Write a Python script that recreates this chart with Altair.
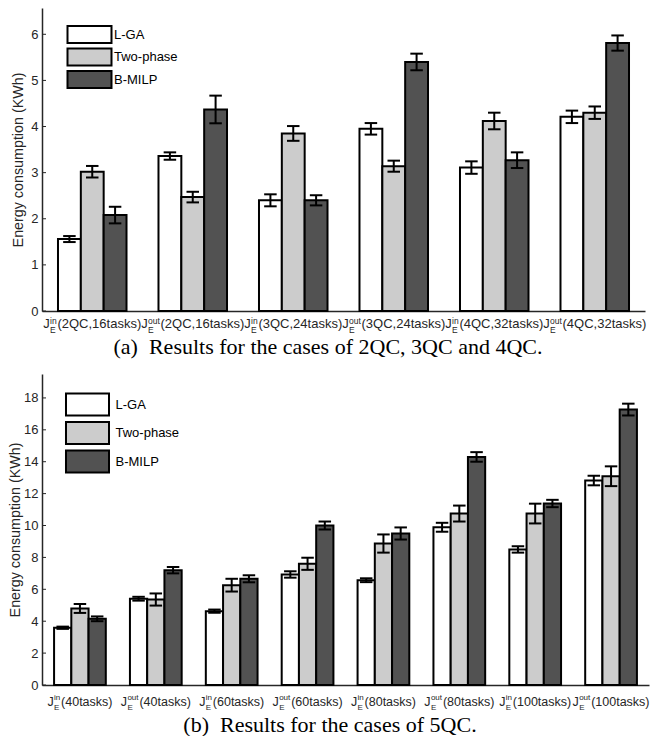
import altair as alt
import pandas as pd

methods = ["L-GA", "Two-phase", "B-MILP"]
colors = ["#ffffff", "#cccccc", "#525252"]

# ---- panel (a) ----
a_sup = ["in", "out", "in", "out", "in", "out"]
a_rest = ["(2QC,16tasks)", "(2QC,16tasks)", "(3QC,24tasks)", "(3QC,24tasks)",
          "(4QC,32tasks)", "(4QC,32tasks)"]
a_lga = [1.56, 3.36, 2.40, 3.95, 3.11, 4.21]
a_lga_err = [0.065, 0.08, 0.13, 0.125, 0.135, 0.135]
a_two = [3.02, 2.47, 3.85, 3.14, 4.12, 4.30]
a_two_err = [0.125, 0.115, 0.16, 0.12, 0.18, 0.135]
a_bm = [2.08, 4.37, 2.40, 5.40, 3.27, 5.81]
a_bm_err = [0.18, 0.30, 0.11, 0.18, 0.17, 0.165]
a_ticks = [0, 1, 2, 3, 4, 5, 6]
a_caption = "(a)\u00a0\u00a0Results for the cases of 2QC, 3QC and 4QC."

# ---- panel (b) ----
b_sup = ["in", "out", "in", "out", "in", "out", "in", "out"]
b_rest = ["(40tasks)", "(40tasks)", "(60tasks)", "(60tasks)", "(80tasks)", "(80tasks)",
          "(100tasks)", "(100tasks)"]
b_lga = [3.59, 5.41, 4.63, 6.93, 6.57, 9.89, 8.50, 12.82]
b_lga_err = [0.07, 0.12, 0.10, 0.20, 0.12, 0.28, 0.20, 0.30]
b_two = [4.80, 5.36, 6.26, 7.60, 8.87, 10.75, 10.75, 13.09]
b_two_err = [0.28, 0.38, 0.40, 0.38, 0.57, 0.50, 0.62, 0.62]
b_bm = [4.15, 7.20, 6.66, 10.00, 9.50, 14.30, 11.38, 17.27]
b_bm_err = [0.15, 0.20, 0.22, 0.25, 0.38, 0.30, 0.23, 0.37]
b_ticks = [0, 2, 4, 6, 8, 10, 12, 14, 16, 18]
b_caption = "(b)\u00a0\u00a0Results for the cases of 5QC."

AX = "#262626"
SANS = "Liberation Sans"
SERIF = "Liberation Serif"

CW = {"(": .333, ")": .333, ",": .278, "Q": .778, "C": .722, "t": .278, "a": .556,
      "s": .5, "k": .5, "J": .5, "i": .222, "n": .556, "o": .556, "u": .556, "E": .667}


def tw(s, fs):
    return sum(CW.get(c, .556) for c in s) * fs


def panel(sups, rests, series, errs, ticks, ymax, W, H, leg, caption, cap_x,
          lab_base, sup_dy, sub_dy, cap_base, title_pad, label_pad, fs, sfs, gap):
    keys = [s + r for s, r in zip(sups, rests)]
    rows = []
    for i, k in enumerate(keys):
        for m, vals, es in zip(methods, series, errs):
            rows.append(dict(group=k, method=m, value=vals[i],
                             lo=vals[i] - es[i], hi=vals[i] + es[i]))
    df = pd.DataFrame(rows)

    xenc = alt.X("group:N", scale=alt.Scale(domain=keys, paddingInner=0, paddingOuter=0),
                 axis=alt.Axis(labels=False, ticks=False, title=None, grid=False,
                               domainColor=AX, domainWidth=1.5))
    xoff = alt.XOffset("method:N", scale=alt.Scale(domain=methods, paddingInner=0,
                                                   paddingOuter=0.7))
    yscale = alt.Scale(domain=[0, ymax], nice=False, zero=True)
    yaxis = alt.Axis(values=ticks, title="Energy consumption (KWh)", ticks=False, grid=False,
                     titlePadding=title_pad, labelPadding=label_pad, domainColor=AX,
                     domainWidth=1.5, labelOverlap=False)

    bars = alt.Chart(df).mark_bar(stroke="black", strokeWidth=2, opacity=1).encode(
        x=xenc, xOffset=xoff,
        y=alt.Y("value:Q", scale=yscale, axis=yaxis),
        fill=alt.Fill("method:N", scale=alt.Scale(domain=methods, range=colors),
                      legend=alt.Legend(**leg)),
    )
    err = alt.Chart(df).mark_rule(color="black", strokeWidth=2).encode(
        x=xenc, xOffset=xoff, y=alt.Y("lo:Q", axis=yaxis), y2="hi:Q")
    cap_hi = alt.Chart(df).mark_tick(color="black", thickness=2, size=12.5,
                                     orient="horizontal", opacity=1).encode(
        x=xenc, xOffset=xoff, y=alt.Y("hi:Q", axis=yaxis))
    cap_lo = alt.Chart(df).mark_tick(color="black", thickness=2, size=12.5,
                                     orient="horizontal", opacity=1).encode(
        x=xenc, xOffset=xoff, y=alt.Y("lo:Q", axis=yaxis))
    tk = alt.Chart(pd.DataFrame({"value": ticks})).mark_rule(color=AX, strokeWidth=1).encode(
        x=alt.value(0), x2=alt.value(4), y=alt.Y("value:Q", axis=yaxis))

    layers = [bars, err, cap_hi, cap_lo, tk]

    # x-axis labels J_E^{in/out}(...) built from text pieces
    combos = {}
    for k, s, r in zip(keys, sups, rests):
        combos.setdefault((s, r), []).append(k)
    for (s, r), ks in combos.items():
        wJ = tw("J", fs)
        wmid = max(tw(s, sfs), tw("E", sfs)) + gap
        wrest = tw(r, fs)
        start = -(wJ + wmid + wrest) / 2
        sub = pd.DataFrame({"group": ks})
        base = alt.Chart(sub)
        pieces = [
            ("J", fs, start, lab_base),
            (s, sfs, start + wJ + 0.3, lab_base + sup_dy),
            ("E", sfs, start + wJ + 0.3, lab_base + sub_dy),
            (r, fs, start + wJ + wmid, lab_base),
        ]
        for txt, f, dx, yb in pieces:
            layers.append(base.mark_text(text=txt, font=SANS, fontSize=f, align="left",
                                         baseline="alphabetic", dx=dx, color=AX).encode(
                x=alt.X("group:N"), y=alt.value(H + yb)))

    cap = alt.Chart(alt.Data(values=[{}])).mark_text(
        text=caption, font=SERIF, fontSize=22, align="center", baseline="alphabetic",
        color="black").encode(x=alt.value(cap_x), y=alt.value(H + cap_base))
    layers.append(cap)
    return alt.layer(*layers).properties(width=W, height=H)


def legend_params(h, w, x, y, rowpad, sym_off, lab_off):
    r = w / h
    return dict(orient="none", legendX=x, legendY=y, title=None,
                symbolType=f"M-{r:.3f},-1H{r:.3f}V1H-{r:.3f}Z", symbolSize=h * h,
                symbolStrokeColor="black", symbolStrokeWidth=2, symbolOpacity=1,
                symbolOffset=sym_off, labelOffset=lab_off,
                labelFont=SANS, labelFontSize=13, labelColor="black",
                rowPadding=rowpad, padding=0)


top = panel(a_sup, a_rest, [a_lga, a_two, a_bm], [a_lga_err, a_two_err, a_bm_err],
            a_ticks, 6.57, 603, 303, legend_params(17, 44, 32, 17, -2.5, 6, 15), a_caption,
            286, 17, -4.5, 5, 43, 5.5, 4, 13, 8.5, 1.0)
bottom = panel(b_sup, b_rest, [b_lga, b_two, b_bm], [b_lga_err, b_two_err, b_bm_err],
               b_ticks, 19.5, 607, 311, legend_params(22, 43, 31, 18.5, -1.5, 2.5, 16),
               b_caption, 288, 20.5, -6, 4.5, 47, 1, 4, 12.5, 8, 1.2)

chart = alt.vconcat(top, bottom, spacing=16).resolve_scale(
    fill="independent", x="independent", y="independent", xOffset="independent"
).resolve_legend(fill="independent").properties(padding=0).configure_view(
    stroke=None
).configure_axis(
    labelFont=SANS, labelFontSize=13, labelColor=AX, titleFont=SANS, titleFontSize=14.3,
    titleFontWeight="normal", titleColor=AX, labelOverlap=False
)

chart.save("out.html", embed_options={"renderer": "svg", "actions": False})
